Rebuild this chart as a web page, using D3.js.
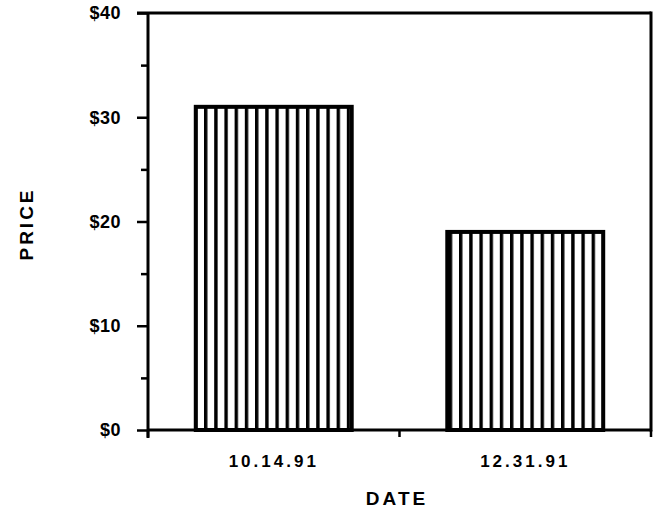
<!DOCTYPE html>
<html><head><meta charset="utf-8">
<script src="https://cdn.jsdelivr.net/npm/d3@7"></script>
<style>body{margin:0;background:#fff}svg{display:block}</style>
</head><body>
<script>
const categories = ["10.14.91", "12.31.91"];
const prices = [31, 19];
const yTicks = [0, 10, 20, 30, 40];
const yTickLabels = ["$0", "$10", "$20", "$30", "$40"];
const yMinorTicks = [5, 15, 25, 35];

const W = 656, H = 510;
const m = {left: 148, right: 5, top: 13, bottom: 80};
const svg = d3.select("body").append("svg").attr("width", W).attr("height", H);

const x = d3.scaleBand().domain(categories).range([m.left, W - m.right]).paddingInner(0.38).paddingOuter(0.19);
const y = d3.scaleLinear().domain([0, 40]).range([H - m.bottom, m.top]);

const defs = svg.append("defs");
const pat = defs.append("pattern").attr("id", "stripes").attr("patternUnits", "userSpaceOnUse")
  .attr("width", 10.2).attr("height", 10);
pat.append("rect").attr("width", 10.2).attr("height", 10).attr("fill", "#fff");
pat.append("rect").attr("x", 0).attr("width", 3.4).attr("height", 10).attr("fill", "#000");

const font = "'Liberation Sans', Arial, sans-serif";

// bars
svg.selectAll("rect.bar").data(prices).join("rect").attr("class", "bar")
  .attr("x", (d, i) => x(categories[i]))
  .attr("y", d => y(d))
  .attr("width", x.bandwidth())
  .attr("height", d => y(0) - y(d))
  .attr("fill", "url(#stripes)")
  .attr("stroke", "#000").attr("stroke-width", 4);

// frame top and right
svg.append("line").attr("x1", m.left - 11).attr("x2", W - m.right).attr("y1", y(40)).attr("y2", y(40))
  .attr("stroke", "#000").attr("stroke-width", 3);
svg.append("line").attr("x1", W - m.right).attr("x2", W - m.right).attr("y1", y(40) - 1.5).attr("y2", y(0) + 1.5)
  .attr("stroke", "#000").attr("stroke-width", 3);

// y axis
const yAxis = d3.axisLeft(y).tickValues(yTicks).tickFormat((d, i) => yTickLabels[i]).tickSize(11).tickPadding(16);
const gy = svg.append("g").attr("transform", `translate(${m.left},0)`).call(yAxis);
gy.select(".domain").attr("stroke-width", 3).attr("d", `M0,${y(40)}V${y(0) + 8}`);
gy.selectAll(".tick line").attr("stroke-width", 2.5);
gy.selectAll(".tick text").attr("font-family", font).attr("font-weight", "bold").attr("font-size", 18)
  .attr("letter-spacing", 0.5).attr("fill", "#000");
const gyMinor = svg.append("g").attr("transform", `translate(${m.left},0)`)
  .call(d3.axisLeft(y).tickValues(yMinorTicks).tickSize(7).tickFormat(""));
gyMinor.select(".domain").remove();
gyMinor.selectAll(".tick line").attr("stroke-width", 2.5);

// x axis
const xAxis = d3.axisBottom(x).tickSize(0).tickPadding(25);
const gx = svg.append("g").attr("transform", `translate(0,${y(0)})`).call(xAxis);
gx.select(".domain").attr("stroke-width", 3).attr("d", `M${m.left},0H${W - m.right}`);
gx.selectAll(".tick text").attr("font-family", font).attr("font-weight", "bold").attr("font-size", 17)
  .attr("letter-spacing", 3).attr("fill", "#000");
// band boundary ticks
const bounds = [m.left, (x(categories[0]) + x.bandwidth() + x(categories[1])) / 2, W - m.right];
svg.selectAll("line.bt").data(bounds).join("line").attr("class", "bt")
  .attr("x1", d => d).attr("x2", d => d).attr("y1", y(0)).attr("y2", y(0) + 7)
  .attr("stroke", "#000").attr("stroke-width", 2.5);

// titles
svg.append("text").attr("x", 397).attr("y", 505).attr("text-anchor", "middle")
  .attr("font-family", font).attr("font-weight", "bold").attr("font-size", 19).attr("letter-spacing", 3)
  .text("DATE");
svg.append("text").attr("transform", "translate(33,224) rotate(-90)").attr("text-anchor", "middle")
  .attr("font-family", font).attr("font-weight", "bold").attr("font-size", 19).attr("letter-spacing", 3)
  .text("PRICE");
</script>
</body></html>
